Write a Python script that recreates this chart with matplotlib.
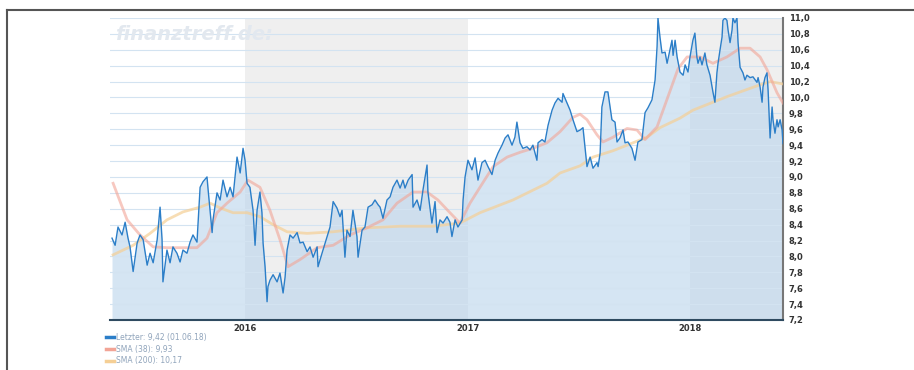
import matplotlib
matplotlib.use("Agg")
import matplotlib.pyplot as plt
from matplotlib.lines import Line2D
from matplotlib.ticker import FuncFormatter, FixedLocator

# Kursverlauf (Dezimaljahr, Kurs)
price_t = [2015.402, 2015.416, 2015.429, 2015.447, 2015.461, 2015.474, 2015.483, 2015.497,
           2015.515, 2015.528, 2015.542, 2015.560, 2015.573, 2015.587, 2015.605, 2015.618,
           2015.627, 2015.631, 2015.649, 2015.663, 2015.676, 2015.694, 2015.708, 2015.721,
           2015.739, 2015.753, 2015.766, 2015.784, 2015.798, 2015.811, 2015.829, 2015.834,
           2015.852, 2015.856, 2015.874, 2015.888, 2015.901, 2015.919, 2015.933, 2015.946,
           2015.964, 2015.978, 2015.991, 2016.000, 2016.009, 2016.022, 2016.036, 2016.045,
           2016.054, 2016.067, 2016.076, 2016.081, 2016.090, 2016.099, 2016.103, 2016.112,
           2016.126, 2016.144, 2016.157, 2016.171, 2016.180, 2016.189, 2016.202, 2016.216,
           2016.234, 2016.247, 2016.261, 2016.279, 2016.292, 2016.306, 2016.324, 2016.328,
           2016.346, 2016.369, 2016.382, 2016.396, 2016.413, 2016.427, 2016.436, 2016.449,
           2016.458, 2016.472, 2016.485, 2016.503, 2016.508, 2016.526, 2016.539, 2016.553,
           2016.571, 2016.584, 2016.598, 2016.607, 2016.620, 2016.638, 2016.652, 2016.665,
           2016.683, 2016.697, 2016.710, 2016.719, 2016.733, 2016.751, 2016.755, 2016.773,
           2016.787, 2016.800, 2016.818, 2016.822, 2016.840, 2016.854, 2016.863, 2016.876,
           2016.890, 2016.908, 2016.921, 2016.930, 2016.944, 2016.957, 2016.976, 2016.980,
           2016.989, 2017.002, 2017.020, 2017.034, 2017.047, 2017.065, 2017.079, 2017.092,
           2017.110, 2017.124, 2017.137, 2017.155, 2017.169, 2017.182, 2017.200, 2017.213,
           2017.222, 2017.236, 2017.249, 2017.267, 2017.281, 2017.294, 2017.312, 2017.317,
           2017.335, 2017.348, 2017.362, 2017.380, 2017.393, 2017.407, 2017.425, 2017.429,
           2017.447, 2017.461, 2017.474, 2017.492, 2017.506, 2017.519, 2017.537, 2017.551,
           2017.564, 2017.582, 2017.587, 2017.596, 2017.604, 2017.618, 2017.631, 2017.649,
           2017.663, 2017.672, 2017.685, 2017.699, 2017.708, 2017.721, 2017.739, 2017.753,
           2017.766, 2017.784, 2017.798, 2017.811, 2017.829, 2017.843, 2017.852, 2017.856,
           2017.865, 2017.874, 2017.888, 2017.897, 2017.910, 2017.919, 2017.924, 2017.933,
           2017.942, 2017.955, 2017.969, 2017.978, 2017.991, 2018.000, 2018.013, 2018.022,
           2018.031, 2018.036, 2018.045, 2018.054, 2018.067, 2018.076, 2018.090, 2018.103,
           2018.112, 2018.121, 2018.126, 2018.135, 2018.144, 2018.148, 2018.157, 2018.166,
           2018.171, 2018.180, 2018.189, 2018.193, 2018.202, 2018.211, 2018.216, 2018.225,
           2018.238, 2018.247, 2018.256, 2018.270, 2018.283, 2018.301, 2018.306, 2018.315,
           2018.324, 2018.328, 2018.337, 2018.346, 2018.351, 2018.360, 2018.369, 2018.373,
           2018.382, 2018.391, 2018.396, 2018.405, 2018.414, 2018.418]
price = [8.23, 8.14, 8.37, 8.27, 8.43, 8.23, 8.12, 7.81,
         8.17, 8.27, 8.21, 7.89, 8.04, 7.92, 8.21, 8.62,
         8.21, 7.68, 8.08, 7.92, 8.12, 8.04, 7.93, 8.08,
         8.04, 8.18, 8.27, 8.18, 8.87, 8.94, 9.00, 8.84,
         8.30, 8.46, 8.80, 8.71, 8.96, 8.75, 8.87, 8.75,
         9.25, 9.05, 9.36, 9.21, 8.92, 8.87, 8.58, 8.14,
         8.58, 8.81, 8.55, 8.17, 7.87, 7.43, 7.62, 7.70,
         7.77, 7.68, 7.79, 7.54, 7.74, 8.08, 8.27, 8.23,
         8.30, 8.17, 8.18, 8.06, 8.12, 7.99, 8.12, 7.87,
         8.04, 8.25, 8.37, 8.69, 8.61, 8.50, 8.58, 7.99,
         8.33, 8.25, 8.58, 8.25, 7.99, 8.33, 8.37, 8.62,
         8.65, 8.71, 8.65, 8.62, 8.48, 8.71, 8.75, 8.87,
         8.96, 8.86, 8.96, 8.86, 8.96, 9.03, 8.62, 8.71,
         8.58, 8.84, 9.15, 8.81, 8.42, 8.69, 8.30, 8.46,
         8.42, 8.50, 8.43, 8.25, 8.46, 8.37, 8.46, 8.71,
         9.00, 9.21, 9.09, 9.24, 8.96, 9.18, 9.21, 9.13,
         9.03, 9.21, 9.30, 9.40, 9.49, 9.53, 9.40, 9.50,
         9.69, 9.43, 9.36, 9.38, 9.34, 9.40, 9.21, 9.43,
         9.47, 9.44, 9.65, 9.84, 9.93, 9.99, 9.94, 10.05,
         9.93, 9.84, 9.72, 9.57, 9.59, 9.62, 9.13, 9.25,
         9.11, 9.18, 9.13, 9.30, 9.88, 10.07, 10.07, 9.72,
         9.69, 9.44, 9.49, 9.59, 9.43, 9.44, 9.36, 9.21,
         9.44, 9.47, 9.81, 9.87, 9.97, 10.22, 10.64, 11.00,
         10.76, 10.56, 10.57, 10.43, 10.60, 10.72, 10.53, 10.72,
         10.51, 10.32, 10.28, 10.41, 10.32, 10.51, 10.72, 10.81,
         10.51, 10.43, 10.51, 10.41, 10.56, 10.41, 10.28, 10.07,
         9.94, 10.31, 10.43, 10.60, 10.76, 10.97, 11.00, 10.97,
         10.85, 10.69, 10.85, 11.00, 10.94, 11.00, 10.69, 10.38,
         10.31, 10.22, 10.28, 10.25, 10.26, 10.19, 10.25, 10.13,
         9.94, 10.13, 10.25, 10.31, 10.09, 9.49, 9.88, 9.72,
         9.55, 9.72, 9.63, 9.72, 9.59, 9.42]

# SMA 38
sma38_t = [2015.407, 2015.470, 2015.528, 2015.587, 2015.649, 2015.721, 2015.784, 2015.829,
           2015.874, 2015.919, 2015.978, 2016.013, 2016.067, 2016.112, 2016.157, 2016.193,
           2016.247, 2016.324, 2016.396, 2016.472, 2016.548, 2016.620, 2016.683, 2016.755,
           2016.818, 2016.867, 2016.921, 2016.966, 2017.011, 2017.056, 2017.115, 2017.178,
           2017.236, 2017.294, 2017.357, 2017.416, 2017.474, 2017.506, 2017.537, 2017.582,
           2017.609, 2017.654, 2017.717, 2017.762, 2017.798, 2017.852, 2017.910, 2017.946,
           2017.987, 2018.045, 2018.103, 2018.166, 2018.225, 2018.270, 2018.315, 2018.346,
           2018.391, 2018.418]
sma38 = [8.92, 8.46, 8.27, 8.12, 8.11, 8.11, 8.11, 8.23,
         8.55, 8.67, 8.81, 8.96, 8.87, 8.58, 8.21, 7.87,
         7.96, 8.11, 8.14, 8.27, 8.36, 8.46, 8.67, 8.81,
         8.81, 8.71, 8.55, 8.42, 8.67, 8.87, 9.13, 9.25,
         9.31, 9.36, 9.43, 9.57, 9.75, 9.79, 9.72, 9.53,
         9.44, 9.50, 9.61, 9.59, 9.47, 9.63, 10.08, 10.36,
         10.51, 10.51, 10.43, 10.51, 10.62, 10.62, 10.51, 10.35,
         10.06, 9.93]

# SMA 200
sma200_t = [2015.407, 2015.497, 2015.573, 2015.649, 2015.721, 2015.798, 2015.843, 2015.888,
            2015.946, 2016.009, 2016.067, 2016.126, 2016.189, 2016.279, 2016.396, 2016.548,
            2016.697, 2016.845, 2016.966, 2017.056, 2017.204, 2017.357, 2017.416, 2017.506,
            2017.564, 2017.654, 2017.717, 2017.807, 2017.865, 2017.955, 2018.013, 2018.166,
            2018.315, 2018.360, 2018.418]
sma200 = [8.02, 8.14, 8.29, 8.46, 8.56, 8.62, 8.67, 8.61,
          8.55, 8.55, 8.50, 8.40, 8.31, 8.29, 8.31, 8.36,
          8.38, 8.38, 8.42, 8.55, 8.71, 8.92, 9.05, 9.14,
          9.25, 9.33, 9.40, 9.50, 9.62, 9.74, 9.84, 10.01,
          10.16, 10.20, 10.17]

years = [2016, 2017, 2018]
shaded_years = [(2016, 2017), (2018, 2019)]
y_ticks = [7.2, 7.4, 7.6, 7.8, 8.0, 8.2, 8.4, 8.6, 8.8, 9.0,
           9.2, 9.4, 9.6, 9.8, 10.0, 10.2, 10.4, 10.6, 10.8, 11.0]
legend_labels = ["Letzter: 9,42 (01.06.18)", "SMA (38): 9,93", "SMA (200): 10,17"]

fig = plt.figure(figsize=(9.14, 3.70), dpi=100)
ax = fig.add_axes([110 / 914, 1 - 320 / 370, 673 / 914, 302 / 370])

x0, x1 = 2015.393, 2018.418
y0, y1 = 7.2, 11.0
ax.set_xlim(x0, x1)
ax.set_ylim(y0, y1)

# Jahresschattierung
for a, b in shaded_years:
    ax.axvspan(a, min(b, x1), color="#efefef", lw=0, zorder=0)

# Fläche unter dem Kurs
ax.fill_between(price_t, price, y0, color="#b9d4ec", alpha=0.6, lw=0, zorder=1)

# Gitterlinien
for yv in y_ticks:
    ax.axhline(yv, color="#d3e3f1", lw=0.8, zorder=2)

ax.plot(sma200_t, sma200, color="#f5cf95", lw=2.0, alpha=0.7, zorder=3)
ax.plot(sma38_t, sma38, color="#f2a496", lw=2.0, alpha=0.6, zorder=4)
ax.plot(price_t, price, color="#2b7ec8", lw=1.0, zorder=5)

# Achsen
ax.yaxis.tick_right()
ax.yaxis.set_major_locator(FixedLocator(y_ticks))
ax.yaxis.set_major_formatter(FuncFormatter(lambda v, p: f"{v:.1f}".replace(".", ",")))
ax.set_xticks(years)
ax.set_xticklabels([str(y) for y in years])
ax.tick_params(axis="both", length=0, labelsize=6, labelcolor="#333333", pad=3)
ax.tick_params(axis="y", pad=4)
for lab in ax.get_xticklabels() + ax.get_yticklabels():
    lab.set_fontweight("bold")

for s in ["top", "left"]:
    ax.spines[s].set_visible(False)
ax.spines["right"].set_color("#777777")
ax.spines["right"].set_linewidth(1.5)
ax.spines["bottom"].set_color("#2e4a60")
ax.spines["bottom"].set_linewidth(1.5)

# Wasserzeichen
ax.text(0.008, 0.945, "finanztreff.de:", transform=ax.transAxes, fontsize=14,
        fontstyle="italic", fontweight="bold", color="#e2e8ef", va="center", ha="left",
        zorder=6)

# Legende
handles = [Line2D([], [], color="#2b7ec8", lw=2.5),
           Line2D([], [], color="#f2a496", lw=2.5),
           Line2D([], [], color="#f5cf95", lw=2.5)]
leg = fig.legend(handles, legend_labels, loc="upper left",
                 bbox_to_anchor=(106 / 914, 1 - 333 / 370), frameon=False,
                 fontsize=5.5, handlelength=1.0, handletextpad=0.3, labelspacing=0.35,
                 borderaxespad=0, borderpad=0)
for t in leg.get_texts():
    t.set_color("#90a4bb")

# Rahmen
fig.add_artist(Line2D([7 / 914, 1], [1 - 10 / 370, 1 - 10 / 370], color="#555555", lw=1.5))
fig.add_artist(Line2D([7 / 914, 7 / 914], [0, 1 - 10 / 370], color="#555555", lw=1.5))

fig.savefig("out.png", dpi=100)
